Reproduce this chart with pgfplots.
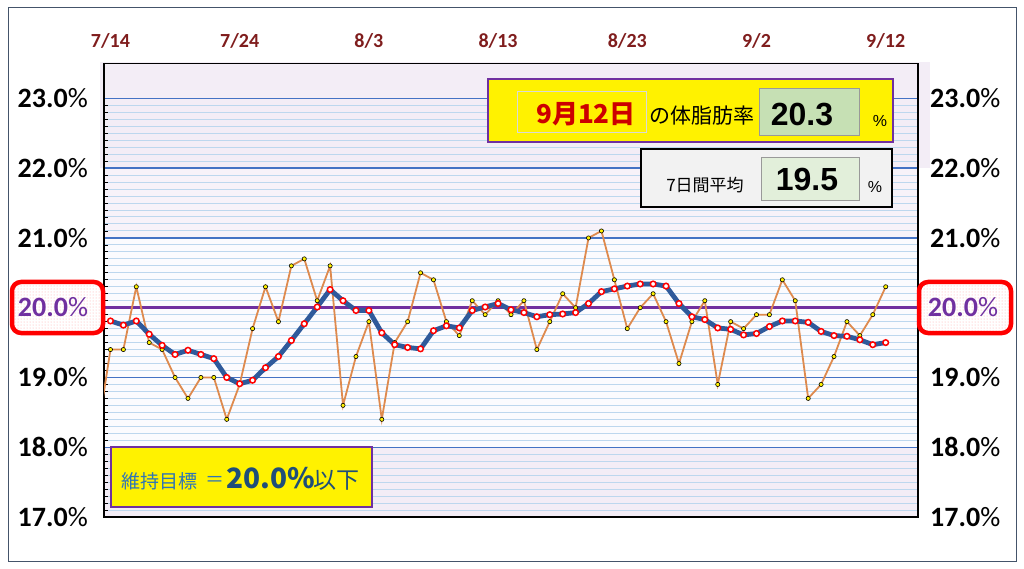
\documentclass[border=0pt]{standalone}
\usepackage{fontspec}
\setmainfont{Carlito}
\newfontfamily\jp{Noto Sans CJK JP}
\newfontfamily\dejavu{DejaVu Sans}
\newfontfamily\libsans{Liberation Sans}
\usepackage{pgfplots}
\pgfplotsset{compat=1.18}
\usetikzlibrary{patterns}

\definecolor{xlab}{HTML}{7F1D1D}
\definecolor{gridmaj}{HTML}{4472C4}
\definecolor{gridmin}{HTML}{BDD7EE}
\definecolor{bglow}{HTML}{F3EDF6}
\definecolor{bgmid}{HTML}{FBFBFE}
\definecolor{bgupper}{HTML}{F7F2F9}
\definecolor{bgtop}{HTML}{F3EDF6}
\definecolor{target}{HTML}{7030A0}
\definecolor{dailyline}{HTML}{DE8A4E}
\definecolor{avgline}{HTML}{2F5A9B}
\definecolor{framecol}{HTML}{44546A}
\definecolor{datered}{HTML}{CC0000}
\definecolor{greenA}{HTML}{C6E0B4}
\definecolor{greenB}{HTML}{E2EFDA}
\definecolor{boxgray}{HTML}{F2F2F2}
\definecolor{goalblue}{HTML}{2E75B6}
\definecolor{goaldark}{HTML}{1F4E79}

% body fat, 7/14 = day 0 (day -1 is cut off at the left edge)
\pgfplotstableread{
day val
-1 18.2
0 19.4
1 19.4
2 20.3
3 19.5
4 19.4
5 19.0
6 18.7
7 19.0
8 19.0
9 18.4
10 18.9
11 19.7
12 20.3
13 19.8
14 20.6
15 20.7
16 20.1
17 20.6
18 18.6
19 19.3
20 19.8
21 18.4
22 19.5
23 19.8
24 20.5
25 20.4
26 19.8
27 19.6
28 20.1
29 19.9
30 20.1
31 19.9
32 20.1
33 19.4
34 19.8
35 20.2
36 20.0
37 21.0
38 21.1
39 20.4
40 19.7
41 20.0
42 20.2
43 19.8
44 19.2
45 19.8
46 20.1
47 18.9
48 19.8
49 19.7
50 19.9
51 19.9
52 20.4
53 20.1
54 18.7
55 18.9
56 19.3
57 19.8
58 19.6
59 19.9
60 20.3
}\daily

% 7-day average
\pgfplotstableread{
day val
0 19.81
1 19.75
2 19.81
3 19.62
4 19.46
5 19.33
6 19.39
7 19.33
8 19.27
9 19.00
10 18.91
11 18.96
12 19.14
13 19.30
14 19.53
15 19.77
16 20.01
17 20.26
18 20.10
19 19.96
20 19.96
21 19.64
22 19.47
23 19.43
24 19.41
25 19.67
26 19.74
27 19.71
28 19.96
29 20.01
30 20.06
31 19.97
32 19.93
33 19.87
34 19.90
35 19.91
36 19.93
37 20.06
38 20.23
39 20.27
40 20.31
41 20.34
42 20.34
43 20.31
44 20.06
45 19.87
46 19.83
47 19.71
48 19.69
49 19.61
50 19.63
51 19.73
52 19.81
53 19.81
54 19.79
55 19.66
56 19.60
57 19.59
58 19.54
59 19.47
60 19.50
}\weekly

\newcommand{\ylabfont}{\fontsize{28}{30}\selectfont\bfseries}
\newcommand{\pc}{{\mdseries\%}}

\begin{document}
\begin{tikzpicture}
\path (0pt,0pt) rectangle (1024pt,568pt);
% outer frame
\draw[framecol, line width=1pt] (8.3pt,6.3pt) rectangle (1016.7pt,560.7pt);

% plot background bands
\fill[bgtop] (100pt,399.85pt) rectangle (930pt,506pt);
\fill[bglow] (104pt,51pt) rectangle (918pt,120.77pt);
\fill[bgmid] (104pt,120.77pt) rectangle (918pt,330.08pt);
\fill[bgupper] (104pt,330.08pt) rectangle (918pt,399.85pt);
\fill[bgtop] (104pt,399.85pt) rectangle (918pt,504.5pt);

\begin{axis}[
  at={(104pt,51pt)}, anchor=south west,
  scale only axis, width=814pt, height=453.5pt,
  xmin=-0.5, xmax=62.5, ymin=17, ymax=23.5,
  axis line style={black, line width=1.8pt},
  xtick={0,10,...,60},
  xticklabels={7/14,7/24,8/3,8/13,8/23,9/2,9/12},
  xticklabel pos=right,
  xtick style={draw=none},
  xticklabel style={font=\fontsize{20}{22}\selectfont\bfseries, text=xlab,
    anchor=base, inner sep=0pt, yshift=16.5pt},
  ytick={17,...,23},
  yticklabels={17.0\pc,18.0\pc,19.0\pc,{},21.0\pc,22.0\pc,23.0\pc},
  ytick pos=left,
  yticklabel style={font=\ylabfont, anchor=east, inner sep=0pt, xshift=-16pt},
  minor y tick num=9,
  ymajorgrids, yminorgrids,
  major grid style={gridmaj, line width=1.4pt},
  minor grid style={gridmin, line width=1pt},
  major tick length=0pt, minor tick length=4pt,
  ytick style={black, line width=0.8pt},
]
% target line
\addplot[target, line width=3pt] coordinates {(-0.5,20) (62.5,20)};
% daily values
\addplot[dailyline, line width=1.8pt, mark=*, mark size=2.1pt,
  mark options={fill=yellow, draw=black, line width=0.6pt}] table[x=day, y=val] {\daily};
% 7-day average
\addplot[avgline, line width=4.8pt, mark=*, mark size=2.8pt,
  mark options={fill=white, draw=red, line width=1.5pt}] table[x=day, y=val] {\weekly};
\end{axis}

% right-hand labels
\begin{axis}[
  at={(104pt,51pt)}, anchor=south west,
  scale only axis, width=814pt, height=453.5pt,
  xmin=-0.5, xmax=62.5, ymin=17, ymax=23.5,
  hide x axis, axis y line*=right, y axis line style={draw=none},
  ytick={17,...,23},
  yticklabels={17.0\pc,18.0\pc,19.0\pc,{},21.0\pc,22.0\pc,23.0\pc},
  ytick style={draw=none},
  yticklabel style={font=\ylabfont, anchor=west, inner sep=0pt, xshift=12pt},
]
\addplot[draw=none] coordinates {(0,20)};
\end{axis}

% 20.0% boxes
\foreach \xa/\xb/\xc in {12/103/53, 919/1011/963}{
  \fill[white, rounded corners=9pt] (\xa pt,235pt) rectangle (\xb pt,286pt);
  \fill[pattern=dots, pattern color=red!35, rounded corners=9pt] (\xa pt,235pt) rectangle (\xb pt,286pt);
  \draw[red, line width=4.5pt, rounded corners=9pt] (\xa pt,235pt) rectangle (\xb pt,286pt);
  \node[text=target, font=\ylabfont, inner sep=0pt] at (\xc pt,261pt) {20.0\pc};
}

% latest value box
\draw[fill=yellow, draw=target, line width=2pt] (488pt,426pt) rectangle (893pt,489pt);
\draw[fill=yellow, draw=black!15, line width=1pt] (517pt,435pt) rectangle (646pt,476pt);
\node[text=datered, font=\jp\bfseries\fontsize{26}{28}\selectfont, inner sep=0pt] at (586pt,454pt) {9月12日};
\node[font=\jp\fontsize{21}{23}\selectfont, inner sep=0pt] at (701.5pt,452pt) {の体脂肪率};
\draw[fill=greenA, draw=black!40, line width=0.8pt] (759pt,433pt) rectangle (859pt,480pt);
\node[font=\libsans\bfseries\fontsize{32}{34}\selectfont, inner sep=0pt] at (802pt,453pt) {20.3};
\node[font=\libsans\fontsize{16}{18}\selectfont, inner sep=0pt] at (880pt,447pt) {\%};

% 7-day average box
\draw[fill=boxgray, draw=black, line width=2.4pt] (641pt,361pt) rectangle (892pt,419pt);
\node[font=\jp\fontsize{17}{19}\selectfont, inner sep=0pt] at (705pt,383pt) {7日間平均};
\draw[fill=greenB, draw=black!40, line width=0.8pt] (761pt,368pt) rectangle (859pt,411pt);
\node[font=\libsans\bfseries\fontsize{32}{34}\selectfont, inner sep=0pt] at (807pt,389pt) {19.5};
\node[font=\libsans\fontsize{16}{18}\selectfont, inner sep=0pt] at (875pt,381pt) {\%};

% goal box
\draw[fill=yellow, draw=target, line width=2pt] (111pt,61pt) rectangle (372pt,121pt);
\node[text=goalblue, font=\jp\fontsize{19}{21}\selectfont, inner sep=0pt] at (159pt,87pt) {維持目標};
\node[text=goalblue, font=\jp\fontsize{19}{21}\selectfont, inner sep=0pt] at (215pt,87pt) {＝};
\node[text=goaldark, font=\jp\bfseries\fontsize{28}{30}\selectfont, inner sep=0pt] at (270.5pt,90pt) {20.0\%};
\node[text=goaldark, font=\jp\fontsize{23}{25}\selectfont, inner sep=0pt] at (336pt,88pt) {以下};
\end{tikzpicture}
\end{document}
